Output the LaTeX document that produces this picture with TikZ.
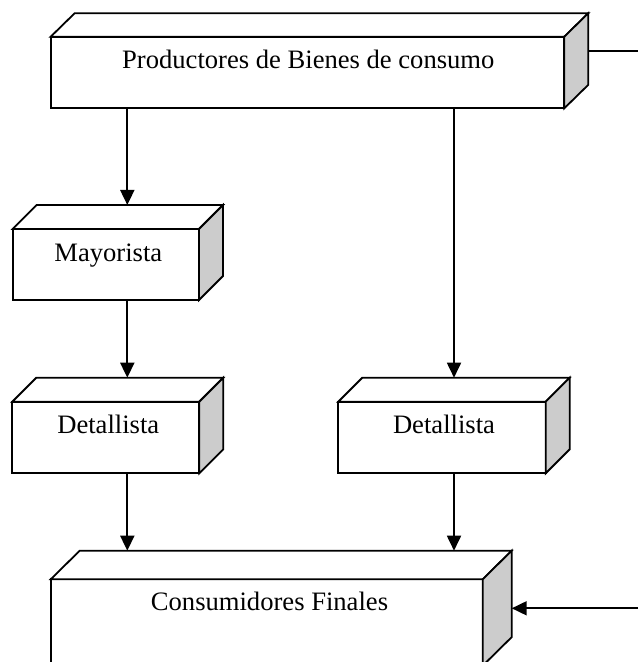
\documentclass[tikz,border=0pt]{standalone}
\usepackage{fontspec}
\setmainfont{Liberation Serif}
\usetikzlibrary{calc,arrows.meta}
\newcommand\boxfaces[3]{%
  \filldraw[fill=white,line join=miter] (#1.north west) -- ++(#2,-#3) -- ($(#1.north east)+(#2,-#3)$) -- (#1.north east) -- cycle;
  \filldraw[fill=black!20,line join=miter] (#1.north east) -- ++(#2,-#3) -- ($(#1.south east)+(#2,-#3)$) -- (#1.south east) -- cycle;
  \coordinate (#1-back) at ($(#1.north east)+(#2,-#3)$);
}
\begin{document}
\begin{tikzpicture}[x=0.5pt,y=-0.5pt,line width=0.9pt,
  frontbox/.style={draw,fill=white,anchor=north west,inner sep=0pt,outer sep=0pt,line join=miter},
  lbl/.style={anchor=base,inner sep=0pt,font=\fontsize{13.3}{16}\selectfont},
  arr/.style={-{Triangle[width=7pt,length=7.5pt]}}]
\useasboundingbox (0,0) rectangle (638,662);
\clip (0,0) rectangle (638,662);
% front faces
\node[frontbox,minimum width=256.8pt,minimum height=35.8pt] (prod) at (50.7,36.7) {};
\node[frontbox,minimum width=93.15pt,minimum height=35.5pt] (may) at (12.7,229) {};
\node[frontbox,minimum width=93.5pt,minimum height=35.8pt] (detL) at (12.3,401.7) {};
\node[frontbox,minimum width=103.7pt,minimum height=35.8pt] (detR) at (338.3,401.7) {};
\node[frontbox,minimum width=216pt,minimum height=43.2pt] (cons) at (50.7,579.3) {};
% 3D faces
\boxfaces{prod}{24}{23.5}
\boxfaces{may}{24}{24}
\boxfaces{detL}{24}{24}
\boxfaces{detR}{24}{24}
\boxfaces{cons}{29}{28.6}
% labels
\node[lbl] (prodT) at (308.3,68.3) {Productores de Bienes de consumo};
\node[lbl] (mayT) at (108.3,261.7) {Mayorista};
\node[lbl] (detLT) at (108.3,433.3) {Detallista};
\node[lbl] (detRT) at (444,433.3) {Detallista};
\node[lbl] (consT) at (269.5,610) {Consumidores Finales};
% columns and free ends
\coordinate (cL) at (127.3,0);
\coordinate (cR) at (454,0);
\coordinate (outTop) at (638,51);
\coordinate (inBot) at (638,608.3);
% connectors
\draw[arr] (prod.south -| cL) -- (may-back -| cL);
\draw[arr] (prod.south -| cR) -- (detR-back -| cR);
\draw[arr] (may.south -| cL) -- (detL-back -| cL);
\draw[arr] (detL.south -| cL) -- (cons-back -| cL);
\draw[arr] (detR.south -| cR) -- (cons-back -| cR);
\draw (outTop -| prod-back) -- (outTop);
\draw[arr] (inBot) -- (inBot -| cons-back);
\end{tikzpicture}
\end{document}
